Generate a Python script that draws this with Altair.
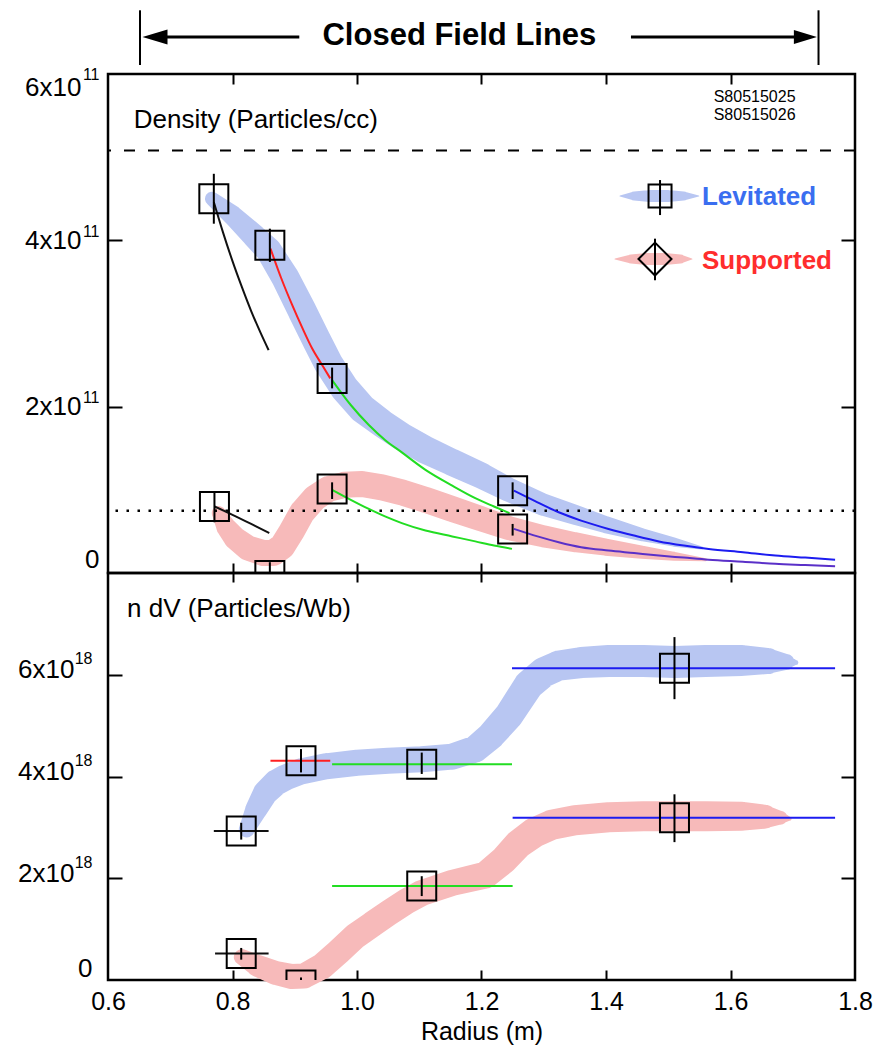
import altair as alt
import pandas as pd

# ------------------------------------------------------------------ data
# x axis: Radius (m)
x_tick_values = [0.8, 1.0, 1.2, 1.4, 1.6]
x_label_values = [0.6, 0.8, 1.0, 1.2, 1.4, 1.6, 1.8]

# top panel: density in units of 1e11 particles/cc
top_y_label_values = [0, 2, 4, 6]
top_y_label_main = ["0", "2x10", "4x10", "6x10"]
top_y_label_sup = ["", "11", "11", "11"]
top_y_tick_values = [2, 4]

# bottom panel: n dV in units of 1e18 particles/Wb
bot_y_label_values = [0, 2, 4, 6]
bot_y_label_main = ["0", "2x10", "4x10", "6x10"]
bot_y_label_sup = ["", "18", "18", "18"]
bot_y_tick_values = [2, 4, 6]

# density measurements (squares) with vertical error bars
dens_lev_r = [0.770, 0.860, 0.960, 1.250]
dens_lev_n = [4.50, 3.94, 2.34, 0.99]
dens_lev_lo = [4.20, 3.74, 2.22, 0.89]
dens_lev_hi = [4.80, 4.14, 2.47, 1.09]
dens_sup_r = [0.771, 0.860, 0.960, 1.250]
dens_sup_n = [0.80, -0.03, 1.01, 0.53]
dens_sup_lo = [0.61, -0.15, 0.89, 0.45]
dens_sup_hi = [0.97, 0.13, 1.09, 0.59]

# density guide bands (centre line and band width)
band_tl_x = [0.767, 0.80, 0.835, 0.858, 0.885, 0.912, 0.935, 0.954, 0.98, 1.008, 1.04, 1.072,
             1.11, 1.153, 1.20, 1.244, 1.30, 1.35, 1.40, 1.458, 1.51, 1.554]
band_tl_y = [4.50, 4.30, 4.05, 3.88, 3.55, 3.15, 2.80, 2.52, 2.22, 1.98, 1.80, 1.64,
             1.48, 1.33, 1.17, 1.00, 0.82, 0.70, 0.58, 0.46, 0.37, 0.30]
band_tl_w = [14, 20, 24, 26, 28, 29, 29, 29, 29, 29, 28, 28,
             28, 27, 26, 24, 22, 20, 17, 13, 9, 3]
band_ts_x = [0.778, 0.79, 0.804, 0.825, 0.850, 0.865, 0.880, 0.895, 0.912, 0.932, 0.954, 0.98,
             1.008, 1.04, 1.072, 1.11, 1.153, 1.20, 1.244, 1.30, 1.35, 1.40, 1.458, 1.51, 1.56]
band_ts_y = [0.72, 0.55, 0.42, 0.30, 0.24, 0.24, 0.32, 0.50, 0.73, 0.90, 1.01, 1.06,
             1.07, 1.03, 0.97, 0.88, 0.77, 0.65, 0.54, 0.44, 0.37, 0.31, 0.25, 0.20, 0.16]
band_ts_w = [14, 20, 23, 25, 26, 26, 26, 26, 26, 26, 26, 26,
             26, 26, 26, 26, 26, 25, 24, 22, 20, 17, 13, 9, 3]

# density fit curves between probe positions
fit_keys = ["lev_A", "lev_B", "lev_C", "lev_D", "sup_A", "sup_C", "sup_D"]
fit_lev_A_x = [0.770, 0.785, 0.800, 0.815, 0.830, 0.845, 0.858]
fit_lev_A_y = [4.46, 4.09, 3.75, 3.44, 3.15, 2.89, 2.68]
fit_lev_B_x = [0.861, 0.878, 0.896, 0.912, 0.928, 0.944, 0.957]
fit_lev_B_y = [3.90, 3.55, 3.22, 2.95, 2.70, 2.50, 2.34]
fit_lev_C_x = [0.960, 0.990, 1.019, 1.045, 1.072, 1.110, 1.153, 1.190, 1.220, 1.245]
fit_lev_C_y = [2.32, 2.02, 1.78, 1.60, 1.45, 1.24, 1.05, 0.90, 0.80, 0.72]
fit_lev_D_x = [1.252, 1.290, 1.324, 1.360, 1.404, 1.445, 1.485, 1.525, 1.565, 1.620, 1.672, 1.720, 1.768]
fit_lev_D_y = [0.99, 0.85, 0.73, 0.63, 0.53, 0.45, 0.38, 0.33, 0.29, 0.25, 0.21, 0.185, 0.16]
fit_sup_A_x = [0.771, 0.800, 0.830, 0.859]
fit_sup_A_y = [0.80, 0.70, 0.59, 0.48]
fit_sup_C_x = [0.960, 0.990, 1.019, 1.045, 1.072, 1.110, 1.153, 1.190, 1.220, 1.249]
fit_sup_C_y = [1.00, 0.88, 0.77, 0.68, 0.60, 0.51, 0.44, 0.38, 0.33, 0.29]
fit_sup_D_x = [1.252, 1.290, 1.324, 1.360, 1.404, 1.445, 1.485, 1.525, 1.565, 1.620, 1.672, 1.720, 1.768]
fit_sup_D_y = [0.53, 0.44, 0.37, 0.31, 0.27, 0.24, 0.21, 0.185, 0.16, 0.135, 0.11, 0.095, 0.08]

# reference levels in the density panel
ref_dashed = [5.08]
ref_dotted = [0.75]

# n dV measurements (squares), vertical and radial error bars
ndv_lev_r = [0.814, 0.910, 1.104, 1.510]
ndv_lev_v = [2.93, 4.31, 4.24, 6.13]
ndv_lev_lo = [2.76, 4.08, 4.05, 5.52]
ndv_lev_hi = [3.09, 4.54, 4.47, 6.74]
ndv_lev_rlo = [0.770, 0.861, 0.960, 1.249]
ndv_lev_rhi = [0.858, 0.957, 1.249, 1.768]
ndv_lev_key = ["A", "B", "C", "D"]
ndv_sup_r = [0.814, 0.910, 1.104, 1.510]
ndv_sup_v = [0.52, -0.10, 1.85, 3.19]
ndv_sup_lo = [0.40, -0.25, 1.65, 2.71]
ndv_sup_hi = [0.63, 0.05, 2.04, 3.65]
ndv_sup_bar_v = [0.52, 1.85, 3.19]
ndv_sup_rlo = [0.772, 0.960, 1.250]
ndv_sup_rhi = [0.858, 1.250, 1.768]
ndv_sup_key = ["A", "C", "D"]

# n dV guide bands
band_bl_x = [0.823, 0.838, 0.853, 0.870, 0.885, 0.910, 0.950, 1.000, 1.050, 1.104, 1.153, 1.190,
             1.215, 1.244, 1.276, 1.300, 1.324, 1.360, 1.404, 1.460, 1.511, 1.560, 1.618, 1.660, 1.690, 1.705]
band_bl_y = [2.96, 3.35, 3.68, 3.88, 3.98, 4.10, 4.20, 4.27, 4.31, 4.34, 4.39, 4.54,
             4.80, 5.20, 5.80, 6.05, 6.18, 6.24, 6.27, 6.27, 6.25, 6.27, 6.28, 6.27, 6.25, 6.24]
band_bl_w = [16, 22, 25, 26, 26, 26, 26, 26, 26, 26, 26, 27,
             28, 29, 30, 30, 30, 31, 32, 32, 32, 32, 31, 26, 16, 5]
band_bs_x = [0.815, 0.840, 0.869, 0.895, 0.915, 0.944, 0.970, 0.997, 1.025, 1.051, 1.080, 1.104, 1.153,
             1.206, 1.235, 1.260, 1.285, 1.313, 1.350, 1.404, 1.460, 1.511, 1.560, 1.618, 1.655, 1.680, 1.695]
band_bs_y = [0.45, 0.28, 0.14, 0.07, 0.08, 0.27, 0.55, 0.86, 1.10, 1.32, 1.55, 1.71, 1.91,
             2.06, 2.35, 2.68, 2.90, 3.05, 3.14, 3.20, 3.22, 3.22, 3.22, 3.22, 3.21, 3.19, 3.17]
band_bs_w = [16, 22, 24, 25, 25, 26, 26, 26, 26, 26, 26, 26, 26,
             27, 28, 29, 30, 30, 30, 30, 30, 30, 30, 29, 24, 14, 4]

# annotations (data coordinates)
panel_top_text = ["Density (Particles/cc)"]
panel_top_text_x = [0.6413]
panel_top_text_y = [5.35]
shot_text = ["S80515025", "S80515026"]
shot_text_x = [1.573, 1.573]
shot_text_y = [5.663, 5.443]
panel_bot_text = ["n dV (Particles/Wb)"]
panel_bot_text_x = [0.6305]
panel_bot_text_y = [7.13]

legend_names = ["Levitated", "Supported"]
legend_text_x = [1.5542, 1.5542]
legend_text_y = [4.425, 3.655]
legend_sym_x = [1.4868, 1.4787]
legend_sym_y = [4.533, 3.775]
legend_bar_lo = [4.304, 3.52]
legend_bar_hi = [4.725, 4.02]
legend_blob_lev_x = [1.4225, 1.445, 1.47, 1.50, 1.525, 1.549]
legend_blob_sup_x = [1.4145, 1.44, 1.465, 1.495, 1.52, 1.538]
legend_blob_w = [1, 9, 12, 12, 9, 1]

closed_text = ["Closed Field Lines"]
closed_text_x = [1.1645]
closed_text_y = [6.457]
closed_bar_x = [0.6514, 1.7414]
closed_bar_lo = [6.108, 6.108]
closed_bar_hi = [6.766, 6.766]
closed_arrow_x1 = [0.6755, 1.4401]
closed_arrow_x2 = [0.9073, 1.7203]
closed_arrow_y = [6.445, 6.445]
closed_head_x = [0.6755, 1.7203]

# ------------------------------------------------------------------ style
W, HT, HB = 747, 499, 407
FONT = "Liberation Sans"
BLUE_BAND = "#b8c6f2"
PINK_BAND = "#f7baba"
FIT_COLORS = ["#111111", "#ff2020", "#22dd22", "#1c1cf0", "#111111", "#22dd22", "#5a30c8"]
BAR_COLORS = ["#111111", "#ff2020", "#22dd22", "#1c1cf0"]
LEGEND_COLORS = ["#3a6ef0", "#ff2d2d"]

xs = alt.Scale(domain=[0.6, 1.8], nice=False, zero=False)
ys_top = alt.Scale(domain=[0, 6], nice=False, zero=False)
ys_bot = alt.Scale(domain=[0, 8], nice=False, zero=False)


def tick_axis(orient, offset, values, size):
    return alt.Axis(orient=orient, offset=offset, values=values, labels=False,
                    domain=False, ticks=True, tickSize=size, tickWidth=2,
                    tickColor="black", grid=False, title=None)


def expr_from(values, texts):
    e = "''"
    for v, t in zip(reversed(values), reversed(texts)):
        e = f"datum.value == {v} ? '{t}' : ({e})"
    return e


def main_axis(values, texts, pad, pad_zero, off, off_zero, top_value=None):
    if top_value is None:
        base = "middle"
    else:
        base = {"condition": {"test": f"datum.value == {top_value}", "value": "top"}, "value": "middle"}
    return alt.Axis(orient="left", values=values, labelExpr=expr_from(values, texts),
                    ticks=False, domain=False, grid=False, title=None,
                    labelFont=FONT, labelFontSize=26, labelColor="black", labelAlign="right",
                    labelBaseline=base,
                    labelPadding={"condition": {"test": "datum.value == 0", "value": pad_zero}, "value": pad},
                    labelOffset={"condition": {"test": "datum.value == 0", "value": off_zero}, "value": off},
                    labelOverlap=False, labelFlush=False)


def sup_axis(values, texts, pad, off, top_value=None, off_top=0):
    if top_value is None:
        lo = off
    else:
        lo = {"condition": {"test": f"datum.value == {top_value}", "value": off_top}, "value": off}
    return alt.Axis(orient="left", values=values, labelExpr=expr_from(values, texts),
                    ticks=False, domain=False, grid=False, title=None,
                    labelFont=FONT, labelFontSize=16, labelColor="black", labelAlign="right",
                    labelBaseline="middle", labelPadding=pad, labelOffset=lo,
                    labelOverlap=False, labelFlush=False)


def X(field="x", axis=None):
    return alt.X(f"{field}:Q", scale=xs, axis=axis)


def trail(xv, yv, wv, color, ys, ax_x=None, ax_y=None):
    d = pd.DataFrame({"x": xv, "y": yv, "w": wv})
    return alt.Chart(d).mark_trail(color=color, opacity=1).encode(
        x=X(axis=ax_x), y=alt.Y("y:Q", scale=ys, axis=ax_y),
        size=alt.Size("w:Q", scale=None, legend=None))


def texts(tv, xv, yv, ys, **kw):
    d = pd.DataFrame({"t": tv, "x": xv, "y": yv})
    kw.setdefault("color", "black")
    return alt.Chart(d).mark_text(font=FONT, **kw).encode(
        x=X(), y=alt.Y("y:Q", scale=ys, axis=None), text="t:N")


# ------------------------------------------------------------------ top panel
fit_rows = []
for k in fit_keys:
    for xv, yv in zip(globals()[f"fit_{k}_x"], globals()[f"fit_{k}_y"]):
        fit_rows.append({"seg": k, "x": xv, "y": yv})
fit_df = pd.DataFrame(fit_rows)

dens_pts = pd.DataFrame({"x": dens_lev_r + dens_sup_r, "y": dens_lev_n + dens_sup_n,
                         "lo": dens_lev_lo + dens_sup_lo, "hi": dens_lev_hi + dens_sup_hi})

t_band_lev = trail(band_tl_x, band_tl_y, band_tl_w, BLUE_BAND, ys_top,
                   ax_x=tick_axis("bottom", -HT, x_tick_values, 10),
                   ax_y=main_axis(top_y_label_values, top_y_label_main, 27, 9, 0, -14, top_value=6))
t_band_sup = trail(band_ts_x, band_ts_y, band_ts_w, PINK_BAND, ys_top,
                   ax_x=tick_axis("top", -HT, x_tick_values, 10),
                   ax_y=sup_axis(top_y_label_values, top_y_label_sup, 9, -9, top_value=6, off_top=0))

t_dash = alt.Chart(pd.DataFrame({"y": ref_dashed})).mark_rule(
    color="black", strokeWidth=2, strokeDash=[11, 13]).encode(
    y=alt.Y("y:Q", scale=ys_top, axis=tick_axis("right", -W, top_y_tick_values, 14)))
t_dot = alt.Chart(pd.DataFrame({"y": ref_dotted})).mark_rule(
    color="black", strokeWidth=2.5, strokeDash=[2.5, 8.5]).encode(
    y=alt.Y("y:Q", scale=ys_top, axis=tick_axis("left", -W, top_y_tick_values, 14)))

t_fits = alt.Chart(fit_df).mark_line(strokeWidth=2, interpolate="monotone").encode(
    x=X(), y=alt.Y("y:Q", scale=ys_top, axis=None),
    color=alt.Color("seg:N", scale=alt.Scale(domain=fit_keys, range=FIT_COLORS), legend=None),
    detail="seg:N")

t_err = alt.Chart(dens_pts).mark_rule(color="black", strokeWidth=2, clip=True).encode(
    x=X(), y=alt.Y("lo:Q", scale=ys_top, axis=None), y2="hi:Q")
t_pts = alt.Chart(dens_pts).mark_point(shape="square", filled=False, size=841, color="black",
                                       strokeWidth=2, opacity=1, clip=True).encode(
    x=X(), y=alt.Y("y:Q", scale=ys_top, axis=None))

t_label = texts(panel_top_text, panel_top_text_x, panel_top_text_y, ys_top,
                fontSize=26, align="left", baseline="alphabetic")
t_shot = texts(shot_text, shot_text_x, shot_text_y, ys_top,
               fontSize=16, align="left", baseline="alphabetic")

# legend
leg_blob_lev = trail(legend_blob_lev_x, [legend_sym_y[0]] * len(legend_blob_lev_x), legend_blob_w,
                     BLUE_BAND, ys_top)
leg_blob_sup = trail(legend_blob_sup_x, [legend_sym_y[1]] * len(legend_blob_sup_x), legend_blob_w,
                     PINK_BAND, ys_top)
leg_df = pd.DataFrame({"name": legend_names, "x": legend_sym_x, "y": legend_sym_y,
                       "lo": legend_bar_lo, "hi": legend_bar_hi,
                       "tx": legend_text_x, "ty": legend_text_y})
leg_bars = alt.Chart(leg_df).mark_rule(color="black", strokeWidth=2).encode(
    x=X(), y=alt.Y("lo:Q", scale=ys_top, axis=None), y2="hi:Q")
leg_sq = alt.Chart(leg_df.iloc[[0]]).mark_point(shape="square", filled=False, size=529, color="black",
                                                strokeWidth=2, opacity=1).encode(
    x=X(), y=alt.Y("y:Q", scale=ys_top, axis=None))
leg_dia = alt.Chart(leg_df.iloc[[1]]).mark_point(shape="diamond", filled=False, size=1089, color="black",
                                                 strokeWidth=2, opacity=1).encode(
    x=X(), y=alt.Y("y:Q", scale=ys_top, axis=None))
leg_txt_lev = texts([legend_names[0]], [legend_text_x[0]], [legend_text_y[0]], ys_top,
                    fontSize=26, fontWeight="bold", align="left", baseline="alphabetic",
                    color=LEGEND_COLORS[0])
leg_txt_sup = texts([legend_names[1]], [legend_text_x[1]], [legend_text_y[1]], ys_top,
                    fontSize=26, fontWeight="bold", align="left", baseline="alphabetic",
                    color=LEGEND_COLORS[1])

# closed field lines annotation
cl_txt = texts(closed_text, closed_text_x, closed_text_y, ys_top, fontSize=31, fontWeight="bold",
               align="center", baseline="middle")
cl_bars = alt.Chart(pd.DataFrame({"x": closed_bar_x, "lo": closed_bar_lo, "hi": closed_bar_hi})).mark_rule(
    color="black", strokeWidth=2).encode(x=X(), y=alt.Y("lo:Q", scale=ys_top, axis=None), y2="hi:Q")
cl_arrows = alt.Chart(pd.DataFrame({"x": closed_arrow_x1, "x2": closed_arrow_x2, "y": closed_arrow_y})).mark_rule(
    color="black", strokeWidth=3).encode(x=X(), x2="x2:Q", y=alt.Y("y:Q", scale=ys_top, axis=None))
heads = pd.DataFrame({"x": closed_head_x, "y": closed_arrow_y})
cl_head_l = alt.Chart(heads.iloc[[0]]).mark_point(shape="M-1,0L1,-0.6L1,0.6Z", filled=True, size=625,
                                                  color="black", opacity=1).encode(
    x=X(), y=alt.Y("y:Q", scale=ys_top, axis=None))
cl_head_r = alt.Chart(heads.iloc[[1]]).mark_point(shape="M1,0L-1,-0.6L-1,0.6Z", filled=True, size=529,
                                                  color="black", opacity=1).encode(
    x=X(), y=alt.Y("y:Q", scale=ys_top, axis=None))

top = alt.layer(t_band_lev, t_band_sup, t_dash, t_dot, t_fits, t_err, t_pts, t_label, t_shot,
                leg_blob_lev, leg_blob_sup, leg_bars, leg_sq, leg_dia, leg_txt_lev, leg_txt_sup,
                cl_txt, cl_bars, cl_arrows, cl_head_l, cl_head_r).resolve_axis(
    x="independent", y="independent").properties(width=W, height=HT)

# ------------------------------------------------------------------ bottom panel
ndv_pts = pd.DataFrame({"x": ndv_lev_r + ndv_sup_r, "y": ndv_lev_v + ndv_sup_v,
                        "lo": ndv_lev_lo + ndv_sup_lo, "hi": ndv_lev_hi + ndv_sup_hi})
ndv_bars = pd.DataFrame({"x": ndv_lev_rlo + ndv_sup_rlo, "x2": ndv_lev_rhi + ndv_sup_rhi,
                         "y": ndv_lev_v + ndv_sup_bar_v, "k": ndv_lev_key + ndv_sup_key})

x_label_axis = alt.Axis(orient="bottom", values=x_label_values, format=".1f", ticks=False, domain=False,
                        grid=False, labelFont=FONT, labelFontSize=25, labelColor="black", labelPadding=9,
                        labelFlush=False, labelOverlap=False, title="Radius (m)", titleFont=FONT,
                        titleFontSize=25, titleFontWeight="normal", titleColor="black", titlePadding=5)

b_band_lev = trail(band_bl_x, band_bl_y, band_bl_w, BLUE_BAND, ys_bot,
                   ax_x=x_label_axis,
                   ax_y=main_axis(bot_y_label_values, bot_y_label_main, 34, 16, -5, -12))
b_band_sup = trail(band_bs_x, band_bs_y, band_bs_w, PINK_BAND, ys_bot,
                   ax_x=tick_axis("top", -HB, x_tick_values, 10),
                   ax_y=sup_axis(bot_y_label_values, bot_y_label_sup, 16, -16))
b_hbars = alt.Chart(ndv_bars).mark_rule(strokeWidth=2).encode(
    x=X(axis=tick_axis("bottom", -HB, x_tick_values, 9)), x2="x2:Q",
    y=alt.Y("y:Q", scale=ys_bot, axis=tick_axis("right", -W, bot_y_tick_values, 14)),
    color=alt.Color("k:N", scale=alt.Scale(domain=["A", "B", "C", "D"], range=BAR_COLORS), legend=None))
b_err = alt.Chart(ndv_pts).mark_rule(color="black", strokeWidth=2, clip=True).encode(
    x=X(), y=alt.Y("lo:Q", scale=ys_bot, axis=tick_axis("left", -W, bot_y_tick_values, 14)), y2="hi:Q")
b_pts = alt.Chart(ndv_pts).mark_point(shape="square", filled=False, size=841, color="black",
                                      strokeWidth=2, opacity=1, clip=True).encode(
    x=X(), y=alt.Y("y:Q", scale=ys_bot, axis=None))
b_label = texts(panel_bot_text, panel_bot_text_x, panel_bot_text_y, ys_bot,
                fontSize=26, align="left", baseline="alphabetic")

bot = alt.layer(b_band_lev, b_band_sup, b_hbars, b_err, b_pts, b_label).resolve_axis(
    x="independent", y="independent").properties(width=W, height=HB)

chart = alt.vconcat(top, bot, spacing=0, bounds="flush").resolve_scale(
    color="independent").configure_view(
    stroke="black", strokeWidth=2.5).properties(
    padding={"left": 8, "top": 0, "right": 5, "bottom": 0})

chart.save("out.html", embed_options={"renderer": "svg", "actions": False})
